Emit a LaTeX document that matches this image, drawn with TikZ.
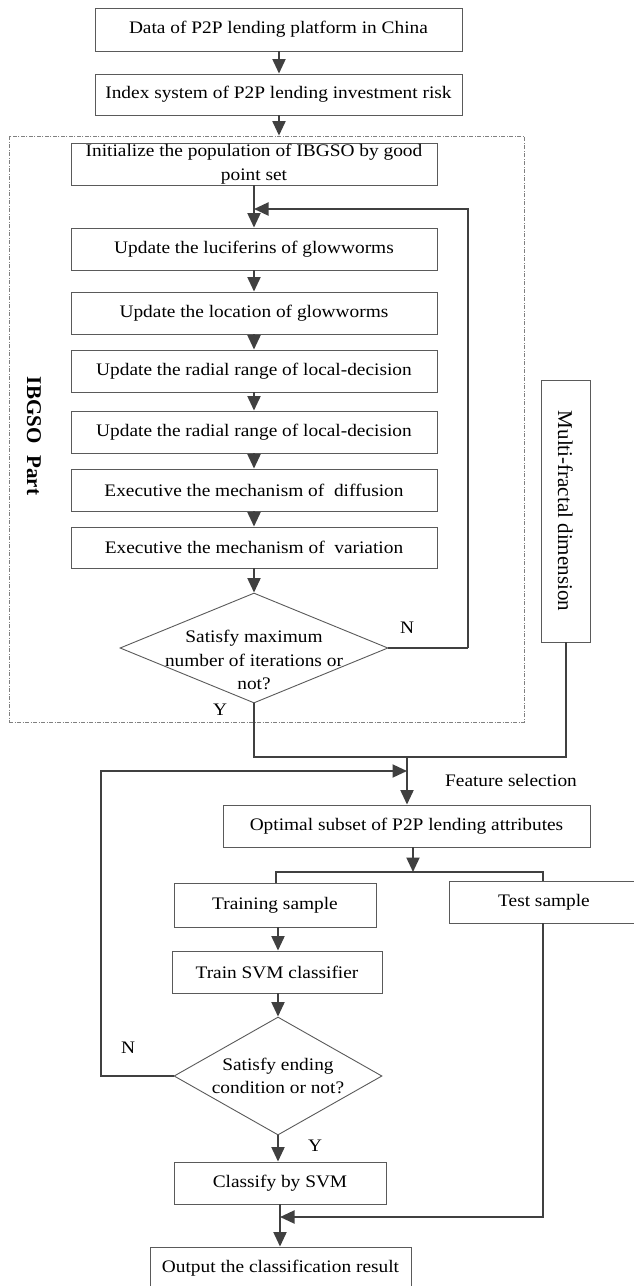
\documentclass[tikz,border=0pt]{standalone}
\usepackage{fontspec}
\setmainfont{Liberation Serif}[FakeStretch=1.1]
\newfontfamily\rotfont{Liberation Serif}
\usetikzlibrary{shapes.geometric,arrows.meta}
\definecolor{ln}{HTML}{404040}
\definecolor{bd}{HTML}{5A5A5A}
\definecolor{fr}{HTML}{808080}
\tikzset{
  box/.style={draw=bd, line width=0.9pt, fill=white, inner sep=0pt, align=center,
    font=\fontsize{17.6pt}{23.5pt}\selectfont},
  dia/.style={draw=bd, line width=0.9pt, shape=diamond, inner sep=0pt, fill=white},
  txt/.style={inner sep=0pt, align=center, font=\fontsize{17.6pt}{23.5pt}\selectfont},
  rot/.style={inner sep=0pt, rotate=-90, font=\rotfont\fontsize{21pt}{24pt}\selectfont},
  conn/.style={draw=ln, line width=2pt},
  arr/.style={conn, -{Triangle[length=14.5pt,width=13pt]}},
  frame/.style={draw=fr, line width=0.8pt, dash pattern=on 4pt off 1.5pt on 1pt off 1.5pt, inner sep=0pt},
}
\begin{document}
\begin{tikzpicture}[x=1pt,y=-1pt]
\useasboundingbox (0,0) rectangle (633,1286);
\fill[white] (0,0) rectangle (633,1286);
% frame
\node[frame, minimum width=515pt, minimum height=586pt] (fr) at (266.5,429) {};
% top boxes
\node[box, minimum width=367pt, minimum height=43pt] (b1) at (278.5,29.5) {Data of P2P lending platform in China};
\node[box, minimum width=367pt, minimum height=41pt] (b2) at (278.5,94.5) {Index system of P2P lending investment risk};
\node[box, minimum width=366pt, minimum height=42pt] (init) at (254,164) {Initialize the population of IBGSO by good\\point set};
\node[box, minimum width=366pt, minimum height=42pt] (u1) at (254,249) {Update the luciferins of glowworms};
\node[box, minimum width=366pt, minimum height=42pt] (u2) at (254,313) {Update the location of glowworms};
\node[box, minimum width=366pt, minimum height=42pt] (u3) at (254,371) {Update the radial range of local-decision};
\node[box, minimum width=366pt, minimum height=42pt] (u4) at (254,432) {Update the radial range of local-decision};
\node[box, minimum width=366pt, minimum height=42pt] (e1) at (254,490) {Executive the mechanism of\ \ diffusion};
\node[box, minimum width=366pt, minimum height=41pt] (e2) at (254,547.5) {Executive the mechanism of\ \ variation};
\node[dia, minimum width=268pt, minimum height=110pt] (d1) at (254,648) {};
\node[txt] (d1t) at (254,660) {Satisfy maximum\\number of iterations or\\not?};
% side labels
\node[rot] (ibg) at (34,436) {\textbf{IBGSO\hspace{12pt}Part}};
\node[box, minimum width=49pt, minimum height=262pt] (multi) at (565.5,511) {};
\node[rot] (multit) at (565.5,511) {Multi-fractal dimension};
% lower boxes
\node[box, minimum width=367pt, minimum height=42pt] (opt) at (406.5,826) {Optimal subset of P2P lending attributes};
\node[box, minimum width=202pt, minimum height=44pt] (train) at (275,905) {Training sample};
\node[box, minimum width=190pt, minimum height=42pt] (test) at (544,902) {Test sample};
\node[box, minimum width=210pt, minimum height=42pt] (svm) at (277,972) {Train SVM classifier};
\node[dia, minimum width=208pt, minimum height=118pt] (d2) at (278,1076) {};
\node[txt] (d2t) at (278,1076) {Satisfy ending\\condition or not?};
\node[box, minimum width=212pt, minimum height=42pt] (cls) at (280,1183) {Classify by SVM};
\node[box, minimum width=261pt, minimum height=42pt] (out) at (280.5,1268) {Output the classification result};
% labels
\node[txt] (n1) at (407,628) {N};
\node[txt] (y1) at (220,710) {Y};
\node[txt] (fs) at (511,780) {Feature selection};
\node[txt] (n2) at (128,1048) {N};
\node[txt] (y2) at (315,1146) {Y};
% coordinates
\coordinate (j1) at (254,209);
\coordinate (r1) at (468,648);
\coordinate (jY) at (407,757);
\coordinate (jN) at (101,771);
\coordinate (sp) at (413,872);
\coordinate (sL) at (276,872);
\coordinate (sR) at (543,872);
\coordinate (jt) at (280,1217);
% connectors
\draw[arr] (b1.south -| 279,0) -- (b2.north -| 279,0);
\draw[arr] (b2.south -| 279,0) -- (fr.north -| 279,0);
\draw[arr] (init.south) -- (u1.north);
\draw[arr] (r1) |- (j1);
\draw[conn] (d1.east) -- (r1);
\draw[arr] (u1.south) -- (u2.north);
\draw[arr] (u2.south) -- (u3.north);
\draw[arr] (u3.south) -- (u4.north);
\draw[arr] (u4.south) -- (e1.north);
\draw[arr] (e1.south) -- (e2.north);
\draw[arr] (e2.south) -- (d1.north);
\draw[conn] (d1.south) |- (multi.south |- jY) -- (multi.south);
\draw[arr] (jY) -- (opt.north -| jY);
\draw[arr] (d2.west) -| (jN) -- (jN -| jY);
\draw[arr] (opt.south -| sp) -- (sp);
\draw[conn] (train.north -| sL) -- (sL) -- (sR) -- (test.north -| sR);
\draw[arr] (train.south -| d2.north) -- (svm.north -| d2.north);
\draw[arr] (svm.south -| d2.north) -- (d2.north);
\draw[arr] (d2.south) -- (cls.north -| d2.south);
\draw[arr] (cls.south) -- (out.north -| cls.south);
\draw[arr] (test.south -| sR) |- (jt);
\end{tikzpicture}
\end{document}
